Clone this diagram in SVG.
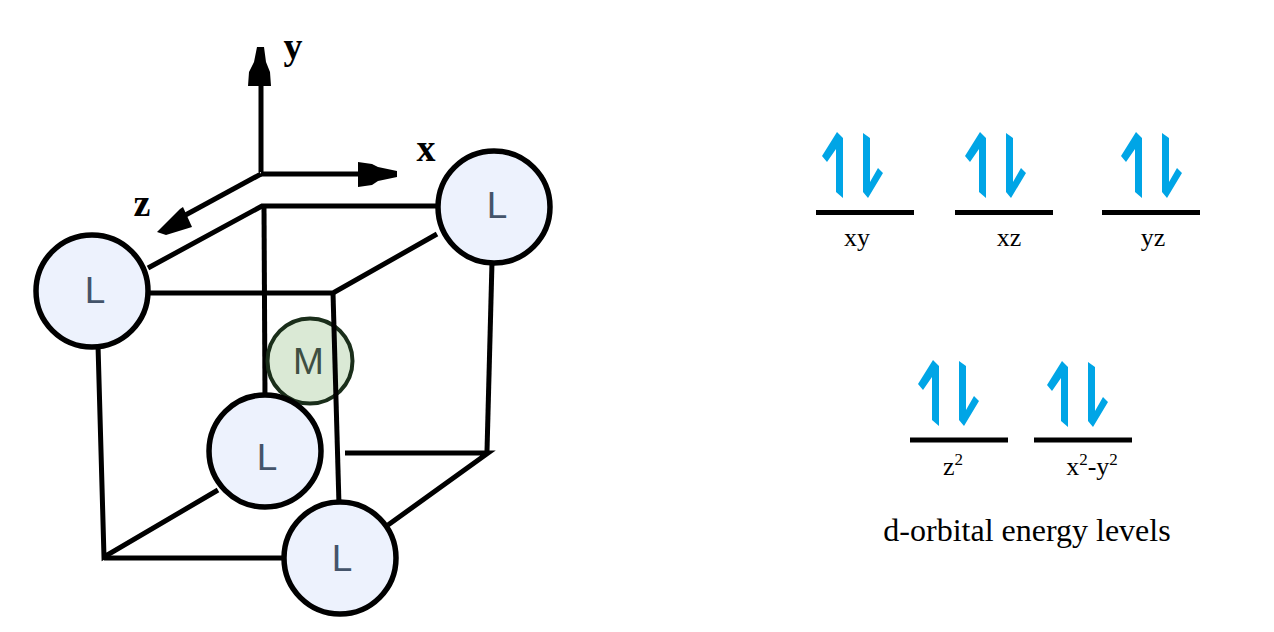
<svg xmlns="http://www.w3.org/2000/svg" width="1274" height="632" viewBox="0 0 1274 632">
<style>
.ln{stroke:#000;stroke-width:5;fill:none}
.hd{fill:#000;stroke:none}
.lv{stroke:#000;stroke-width:5;stroke-linecap:butt}
.sp{fill:#00a5e6;stroke:none}
.ring{fill:#edf2fd;stroke:#000;stroke-width:5.500}
.metal{fill:#dae9d5;stroke:#1a2e1a;stroke-width:4}
.nl{font-family:"Liberation Sans",Arial,sans-serif;font-size:37px;fill:#44546a;text-anchor:middle}
.ax{font-family:"Liberation Serif",serif;font-size:38px;font-weight:bold;fill:#000;text-anchor:middle}
.ol{font-family:"Liberation Serif","Times New Roman",serif;font-size:26px;fill:#000;text-anchor:middle}
.cap{font-family:"Liberation Serif","Times New Roman",serif;font-size:32px;fill:#000;text-anchor:middle}
</style>
<defs>
<g id="pair">
<path class="sp" d="M37 0 L43 6 V66 L36 60 V17 L27 30 L22 24 Z"/>
<path class="sp" d="M63 1 L70 6 V50 L78 36 L83 41 L68 66 L63 60 Z"/>
</g>
</defs>
<g id="connectors">
<path class="ln" d="M261 172V80"/>
<path class="hd" d="M257 47H264L266 62L270 72L271 86H248L249 72L254 62Z"/>
<path class="ln" d="M261 174H365"/>
<path class="hd" d="M397 171V177L378 181L372 185L358 187V162L372 164L378 167Z"/>
<path class="ln" d="M261 174L180 218"/>
<path class="hd" d="M157 232L180 209L183 207L192 227L166 235Z"/>
<path class="ln" d="M148 268L262 206H440"/>
<path class="ln" d="M264 206L265 398"/>
<path class="ln" d="M148 293H333L437 234"/>
<path class="ln" d="M492 262L487 451"/>
<path class="ln" d="M345 453H488L388 525"/>
<path class="ln" d="M98 345L104 557L218 490"/>
<path class="ln" d="M104 558H284"/>
</g>
<g id="node-M">
<circle class="metal" cx="310" cy="361" r="42.500"/>
<text class="nl" x="308.500" y="374" style="fill:#3f4f42">M</text>
</g>
<path class="ln" d="M333 293L339 505"/>
<g id="node-L-top"><circle class="ring" cx="494" cy="207" r="56"/><text class="nl" x="497" y="218">L</text></g>
<g id="node-L-left"><circle class="ring" cx="92" cy="291" r="56"/><text class="nl" x="95" y="303">L</text></g>
<g id="node-L-mid"><circle class="ring" cx="265" cy="451" r="56"/><text class="nl" x="267" y="470">L</text></g>
<g id="node-L-bot"><circle class="ring" cx="340" cy="558" r="56"/><text class="nl" x="342" y="571">L</text></g>
<text class="ax" x="293" y="59">y</text>
<text class="ax" x="426" y="161">x</text>
<text class="ax" x="142" y="216">z</text>
<g id="orbital-xy"><use href="#pair" x="800" y="132"/><path class="lv" d="M816 212.500H914"/><text class="ol" x="857" y="246">xy</text></g>
<g id="orbital-xz"><use href="#pair" x="943" y="132"/><path class="lv" d="M955 212.500H1053"/><text class="ol" x="1009" y="246">xz</text></g>
<g id="orbital-yz"><use href="#pair" x="1099" y="132"/><path class="lv" d="M1102 212.500H1200"/><text class="ol" x="1153" y="246">yz</text></g>
<g id="orbital-z2"><use href="#pair" x="896" y="360"/><path class="lv" d="M910 440H1008"/><text class="ol" x="953" y="475">z<tspan font-size="17" dy="-10">2</tspan></text></g>
<g id="orbital-x2y2"><use href="#pair" x="1025" y="361"/><path class="lv" d="M1034 440H1132"/><text class="ol" x="1092" y="475">x<tspan font-size="17" dy="-10">2</tspan><tspan dy="10">-y</tspan><tspan font-size="17" dy="-10">2</tspan></text></g>
<text class="cap" x="1027" y="541">d-orbital energy levels</text>
</svg>
